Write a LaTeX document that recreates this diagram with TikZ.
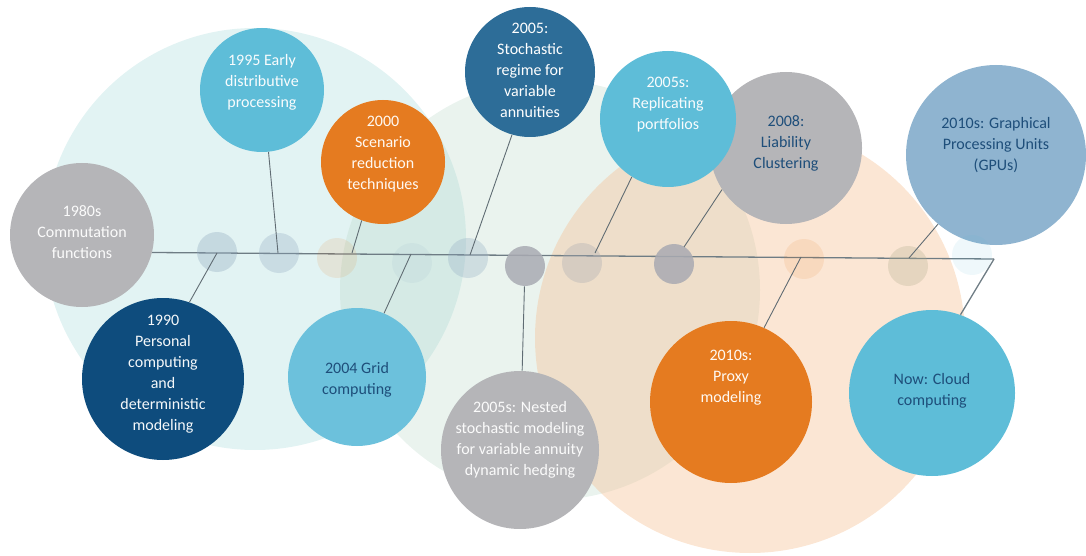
\documentclass[tikz,border=0pt]{standalone}
\usepackage{fontspec}
\setmainfont{Carlito}
\usepackage{xcolor}
\usepackage{tikz}
\usetikzlibrary{shapes,positioning,calc}

\definecolor{tealbg}{HTML}{9FD6D6}
\definecolor{greenbg}{HTML}{B8D8C8}
\definecolor{peachbg}{HTML}{F6C093}
\definecolor{greyc}{HTML}{B5B5B8}
\definecolor{skyc}{HTML}{5EBDD8}
\definecolor{gridc}{HTML}{6CC1DC}
\definecolor{orangec}{HTML}{E57B20}
\definecolor{navyc}{HTML}{0E4C7D}
\definecolor{stochc}{HTML}{2D6D98}
\definecolor{steelc}{HTML}{8FB4D0}
\definecolor{inkc}{HTML}{1E4E7A}
\definecolor{linkc}{HTML}{606C73}
\definecolor{spinec}{HTML}{6E7C84}
\definecolor{dotblue}{HTML}{8FA9C0}
\definecolor{dotgrey}{HTML}{A9AAB2}
\definecolor{dotkhaki}{HTML}{B3AE8E}

\begin{document}
\begin{tikzpicture}[x=1pt,y=-1pt,semithick,
font=\fontsize{16}{21}\selectfont]

\tikzstyle{bubble}=[circle, draw=none, inner sep=0pt]
\tikzstyle{caption}=[align=center, inner sep=0pt, font=\fontsize{16}{21}\selectfont]
\tikzstyle{dot}=[circle, draw=none, inner sep=0pt, minimum size=40pt]
\tikzstyle{link}=[draw=linkc, line width=0.9pt]
\tikzstyle{spine}=[draw=spinec, line width=1.3pt]

\useasboundingbox (0,0) rectangle (1086,556);

%background circles
\fill[tealbg, fill opacity=0.3] (255,239) circle (211pt);
\fill[greenbg, fill opacity=0.3] (550,290) circle (210pt);
\fill[peachbg, fill opacity=0.4] (750,338) circle (215pt);

%upper row
\node[bubble, fill=greyc, minimum size=144pt,
label={[caption, text=white!94!greyc, yshift=3pt]center:{1980s\\Commutation\\functions}}]
(comm) at (82,235) {};

\node[bubble, fill=skyc, minimum size=124pt,
label={[caption, text=white!96!skyc, yshift=8pt]center:{1995 Early\\distributive\\processing}}]
(early) at (262,90) {};

\node[bubble, fill=orangec, minimum size=124pt,
label={[caption, text=white!95!orange, yshift=8pt]center:{2000\\Scenario\\reduction\\techniques}}]
(scen) at (383,162) {};

\node[bubble, fill=stochc, minimum size=130pt,
label={[caption, text=white, yshift=2pt]center:{2005:\\Stochastic\\regime for\\variable\\annuities}}]
(stoch) at (530,72) {};

\node[bubble, fill=greyc, minimum size=152pt,
label={[caption, text=inkc, yshift=5pt]center:{2008:\\Liability\\Clustering}}]
(liab) at (786,148) {};

\node[bubble, fill=skyc, minimum size=136pt,
label={[caption, text=white!96!skyc, yshift=14pt]center:{2005s:\\Replicating\\portfolios}}]
(repl) at (668,119) {};

\node[bubble, fill=steelc, minimum size=180pt,
label={[caption, text=inkc, yshift=10pt]center:{2010s: Graphical\\Processing Units\\(GPUs)}}]
(gpu) at (996,155) {};

%lower row
\node[bubble, fill=navyc, minimum size=162pt,
label={[caption, text=white!96!navyc, yshift=5pt]center:{1990\\Personal\\computing\\and\\deterministic\\modeling}}]
(personal) at (163,379) {};

\node[bubble, fill=gridc, minimum size=138pt,
label={[caption, text=inkc, yshift=-3pt]center:{2004 Grid\\computing}}]
(grid) at (357,377) {};

\node[bubble, fill=greyc, minimum size=158pt,
label={[caption, text=white!94!greyc, yshift=10pt]center:{2005s: Nested\\stochastic modeling\\for variable annuity\\dynamic hedging}}]
(nested) at (520,450) {};

\node[bubble, fill=orangec, minimum size=162pt,
label={[caption, text=white!95!orange, yshift=24pt]center:{2010s:\\Proxy\\modeling}}]
(proxy) at (731,402) {};

\node[bubble, fill=skyc, minimum size=166pt,
label={[caption, text=inkc, yshift=2pt]center:{Now: Cloud\\computing}}]
(cloud) at (932,393) {};

%timeline
\coordinate (tend) at (994,259);
\path[spine] (comm.-14) edge (tend);
\path[spine] (tend) edge (cloud.70);

%dots on the line
\node[dot, fill=dotblue, fill opacity=0.35] (d1) at (217,252) {};
\node[dot, fill=dotblue, fill opacity=0.3] (d2) at (279,253) {};
\node[dot, fill=orangec, fill opacity=0.12] (d3) at (337,258) {};
\node[dot, fill=dotblue, fill opacity=0.1] (d4) at (412,263) {};
\node[dot, fill=dotblue, fill opacity=0.3] (d5) at (468,258) {};
\node[dot, fill=dotgrey, fill opacity=0.85] (d6) at (525,266) {};
\node[dot, fill=dotgrey, fill opacity=0.35] (d7) at (582,263) {};
\node[dot, fill=dotgrey, fill opacity=0.85] (d8) at (674,264) {};
\node[dot, fill=orangec, fill opacity=0.12] (d9) at (804,259) {};
\node[dot, fill=dotkhaki, fill opacity=0.3] (d10) at (908,266) {};
\node[dot, fill=skyc, fill opacity=0.1] (d11) at (972,255) {};

%feet of the connectors
\coordinate (t1) at (217,253);
\coordinate (t2) at (278,253);
\coordinate (t3) at (352,253);
\coordinate (t4) at (411,254);
\coordinate (t5) at (470,255);
\coordinate (t7) at (595,253);
\coordinate (t8) at (684,247);
\coordinate (t9) at (801,257);
\coordinate (t10) at (909,258);

\path[link] (t1) edge (personal.71);
\path[link] (t2) edge (early.-84);
\path[link] (t3) edge (scen.-110);
\path[link] (t4) edge (grid.67);
\path[link] (t5) edge (stoch.-106);
\path[link] (d6) edge (nested);
\path[link] (t7) edge (repl.-122);
\path[link] (t8) edge (liab.-147);
\path[link] (t9) edge (proxy.66);
\path[link] (t10) edge (gpu.-130);

\end{tikzpicture}
\end{document}
